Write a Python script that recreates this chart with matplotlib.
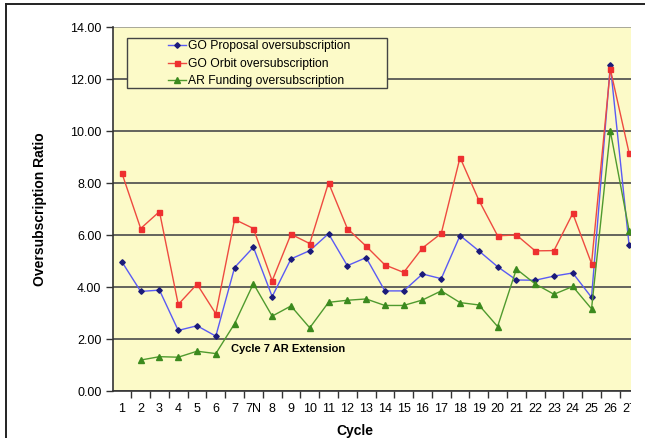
"""
Oversubscription ratio by cycle, redrawn in matplotlib.
"""

import numpy as np
import matplotlib.pyplot as plt
from matplotlib.patches import Rectangle
from matplotlib.lines import Line2D
from matplotlib.ticker import FixedLocator, FormatStrFormatter

plt.rcParams['font.family'] = ['Liberation Sans', 'DejaVu Sans']

cycles = ['1', '2', '3', '4', '5', '6', '7', '7N', '8', '9', '10', '11', '12',
          '13', '14', '15', '16', '17', '18', '19', '20', '21', '22', '23',
          '24', '25', '26', '27']

go_proposal = [4.97, 3.83, 3.88, 2.33, 2.51, 2.11, 4.75, 5.53, 3.63, 5.08,
               5.40, 6.05, 4.82, 5.13, 3.85, 3.85, 4.50, 4.32, 5.98, 5.39,
               4.78, 4.27, 4.26, 4.42, 4.54, 3.60, 12.53, 5.60]

go_orbit = [8.38, 6.25, 6.90, 3.33, 4.11, 2.97, 6.60, 6.25, 4.24, 6.03,
            5.67, 8.01, 6.25, 5.57, 4.85, 4.56, 5.50, 6.06, 8.98, 7.34,
            5.97, 6.00, 5.39, 5.40, 6.83, 4.90, 12.38, 9.15]

ar_funding = [np.nan, 1.19, 1.32, 1.30, 1.53, 1.44, 2.59, 4.13, 2.88, 3.27,
              2.43, 3.41, 3.49, 3.54, 3.29, 3.29, 3.50, 3.85, 3.40, 3.31,
              2.48, 4.69, 4.12, 3.72, 4.02, 3.16, 10.00, 6.17]

W, H = 645, 438
bg = '#FCFAC8'

fig = plt.figure(figsize=(W / 100, H / 100), dpi=100)
fig.patch.set_facecolor('white')

# plot area in pixels: left 112.5, right 638.5 (partly cut off), top 27, bottom 391
ax = fig.add_axes([112.5 / W, (H - 391) / H, (638.5 - 112.5) / W, (391 - 27) / H])
ax.set_facecolor(bg)

x = np.arange(len(cycles))
ax.plot(x, go_proposal, color='#5A5AF5', lw=1.0, marker='D', markersize=2.8,
        markerfacecolor='#1B1B7A', markeredgecolor='#1B1B7A',
        label='GO Proposal oversubscription', zorder=3)
ax.plot(x, go_orbit, color='#EE4A40', lw=1.0, marker='s', markersize=3.6,
        markerfacecolor='#EE3030', markeredgecolor='#EE3030',
        label='GO Orbit oversubscription', zorder=3)
ax.plot(x, ar_funding, color='#4F9A2E', lw=1.0, marker='^', markersize=4,
        markerfacecolor='#3C8A1E', markeredgecolor='#3C8A1E',
        label='AR Funding oversubscription', zorder=3)

ax.set_xlim(-0.5, len(cycles) - 0.5)
ax.set_ylim(0, 14)
ax.set_yticks(np.arange(0, 14.01, 2))
ax.yaxis.set_major_formatter(FormatStrFormatter('%.2f'))
ax.grid(axis='y', color='#4A4A4A', lw=1.2)
ax.set_axisbelow(True)
# top gridline looks lighter in the original
ax.get_ygridlines()[-1].set_color('#9A9A90')

ax.set_xticks(x)
ax.set_xticklabels(cycles)
ax.xaxis.set_minor_locator(FixedLocator(np.arange(0.5, len(cycles), 1)))
ax.tick_params(axis='x', which='major', length=0, pad=9, labelsize=9)
ax.tick_params(axis='x', which='minor', length=5, width=1, color='#333333',
               direction='out')
ax.tick_params(axis='y', length=5, width=1, color='#333333', direction='out',
               pad=3, labelsize=9)

for side in ['top', 'right']:
    ax.spines[side].set_visible(False)
for side in ['left', 'bottom']:
    ax.spines[side].set_color('#333333')
    ax.spines[side].set_linewidth(1.2)

ax.set_ylabel('Oversubscription Ratio', fontsize=10, fontweight='bold')
ax.yaxis.set_label_coords(-0.124, 0.5)
ax.set_xlabel('Cycle', fontsize=10, fontweight='bold')
ax.xaxis.set_label_coords(0.461, -0.09)

ax.text(5.8, 1.63, 'Cycle 7 AR Extension', fontsize=8, fontweight='bold',
        ha='left', va='center')

# legend box drawn separately so it can be wider than its contents
ax.add_patch(Rectangle((127.3 / W, (H - 87.7) / H), 260 / W, 49.4 / H,
                       transform=fig.transFigure, facecolor=bg,
                       edgecolor='#444444', lw=1.0, zorder=4))
ax.legend(loc='upper left', bbox_to_anchor=(168 / W, (H - 40.5) / H),
          bbox_transform=fig.transFigure, frameon=False, fontsize=8.7,
          borderpad=0, borderaxespad=0, handlelength=1.5, handletextpad=0.15,
          labelspacing=0.45)

# screenshot frame and the cut-off right edge
fig.add_artist(Line2D([6 / W, 1], [1 - 4 / H, 1 - 4 / H], color='#222222', lw=1.4))
fig.add_artist(Line2D([6 / W, 6 / W], [0, 1 - 4 / H], color='#222222', lw=1.4))
fig.add_artist(Rectangle((631 / W, 0), (W - 631) / W, (H - 10) / H,
                         transform=fig.transFigure, facecolor='white',
                         edgecolor='none', zorder=10))

fig.savefig('out.png', dpi=100)
